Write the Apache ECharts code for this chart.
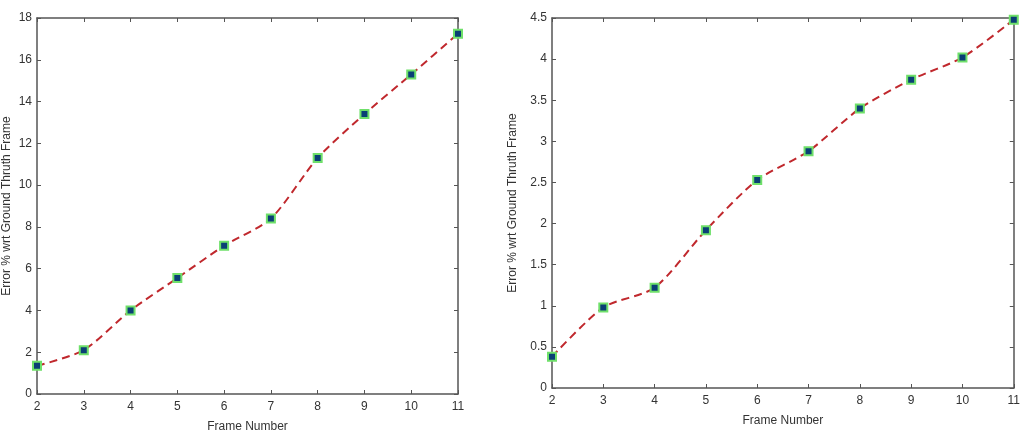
<!DOCTYPE html>
<html><head><meta charset="utf-8">
<script src="https://cdn.jsdelivr.net/npm/echarts@6/dist/echarts.min.js"></script>
<style>html,body{margin:0;padding:0;background:#fff}#c{width:1023px;height:438px}</style>
</head><body><div id="c"></div>
<script>
const frames = [2, 3, 4, 5, 6, 7, 8, 9, 10, 11];
const errorLeft = [1.35, 2.1, 4.0, 5.55, 7.1, 8.4, 11.3, 13.4, 15.3, 17.25];
const errorRight = [0.38, 0.98, 1.22, 1.92, 2.53, 2.88, 3.40, 3.75, 4.02, 4.48];
const xTitle = 'Frame Number';
const yTitle = 'Error % wrt Ground Thruth Frame';

const chart = echarts.init(document.getElementById('c'));
const axCol = '#555';
const font = 'Liberation Sans, Arial, sans-serif';
function xAx(grid, top, gap) {
  return {
    type: 'value', gridIndex: grid, min: 2, max: 11, interval: 1,
    position: top ? 'top' : 'bottom',
    name: top ? '' : xTitle, nameLocation: 'middle', nameGap: gap,
    nameTextStyle: {color: '#333', fontSize: 12, fontFamily: font},
    axisLine: {show: true, onZero: false, lineStyle: {color: axCol, width: 1.5}},
    axisTick: {show: true, inside: true, length: 4, lineStyle: {color: axCol}},
    axisLabel: {show: !top, color: '#333', fontSize: 12, fontFamily: font, margin: 7},
    splitLine: {show: false}
  };
}
function yAx(grid, max, interval, right, gap) {
  return {
    type: 'value', gridIndex: grid, min: 0, max: max, interval: interval,
    position: right ? 'right' : 'left',
    name: right ? '' : yTitle, nameLocation: 'middle', nameGap: gap,
    nameTextStyle: {color: '#333', fontSize: 12, fontFamily: font},
    axisLine: {show: true, onZero: false, lineStyle: {color: axCol, width: 1.5}},
    axisTick: {show: true, inside: true, length: 4, lineStyle: {color: axCol}},
    axisLabel: {show: !right, color: '#333', fontSize: 12, fontFamily: font, margin: 5},
    splitLine: {show: false}
  };
}
function ser(xi, yi, vals) {
  return {
    type: 'line', xAxisIndex: xi, yAxisIndex: yi,
    data: frames.map((f, i) => [f, vals[i]]),
    smooth: 0.25,
    lineStyle: {color: '#c0282d', width: 2, type: [8, 5]},
    symbol: 'rect', symbolSize: 8,
    itemStyle: {color: '#0a3f75', borderColor: '#6fe06a', borderWidth: 2},
    z: 5
  };
}
chart.setOption({
  animation: false,
  grid: [
    {left: 37, top: 18, width: 421, bottom: 43},
    {left: 552, top: 18, right: 8, bottom: 50}
  ],
  xAxis: [xAx(0, false, 27), xAx(0, true, 0), xAx(1, false, 27), xAx(1, true, 0)],
  yAxis: [yAx(0, 18, 2, false, 24), yAx(0, 18, 2, true, 0), yAx(1, 4.5, 0.5, false, 33), yAx(1, 4.5, 0.5, true, 0)],
  series: [ser(0, 0, errorLeft), ser(2, 2, errorRight)]
});
</script></body></html>
